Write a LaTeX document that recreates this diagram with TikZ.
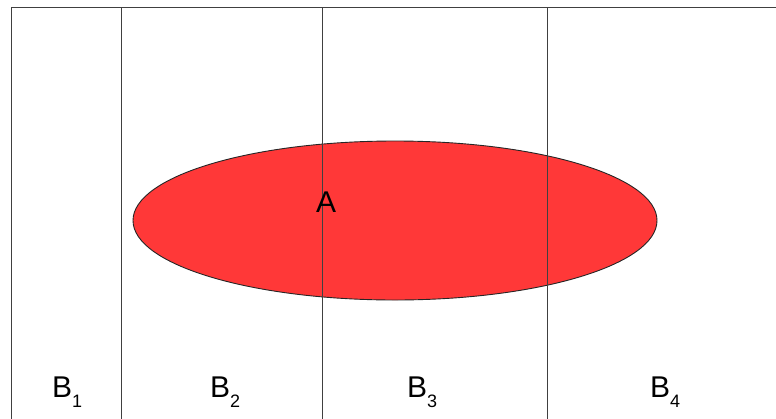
\documentclass[tikz,border=0pt]{standalone}
\usepackage{fontspec}
\setmainfont{Liberation Sans}
\definecolor{setred}{RGB}{255,56,56}
\newcommand{\partidx}[1]{\raisebox{-0.36em}{\fontsize{18}{18}\selectfont #1}}
\begin{document}
\begin{tikzpicture}[x=1pt,y=-1pt,
  part line/.style={draw=black!75,line width=1pt},
  label/.style={font=\fontsize{30}{30}\selectfont,inner sep=0pt,anchor=base west}]
\useasboundingbox (0,0) rectangle (776,418);
\clip (0,0) rectangle (776,418);
% set A
\filldraw[fill=setred,draw=black!85,line width=0.9pt] (395,220.5) ellipse [x radius=262,y radius=79.5];
% frame and parts
\draw[part line] (11,430) -- (11,7) -- (790,7);
\foreach \xx in {121,322,547}
  \draw[part line] (\xx,7) -- (\xx,430);
% labels
\node[label] (a) at (316,212) {A};
\node[label] (b1) at (52,397) {B\partidx{1}};
\node[label] (b2) at (210,397) {B\partidx{2}};
\node[label] (b3) at (407,397) {B\partidx{3}};
\node[label] (b4) at (650,397) {B\partidx{4}};
\end{tikzpicture}
\end{document}
